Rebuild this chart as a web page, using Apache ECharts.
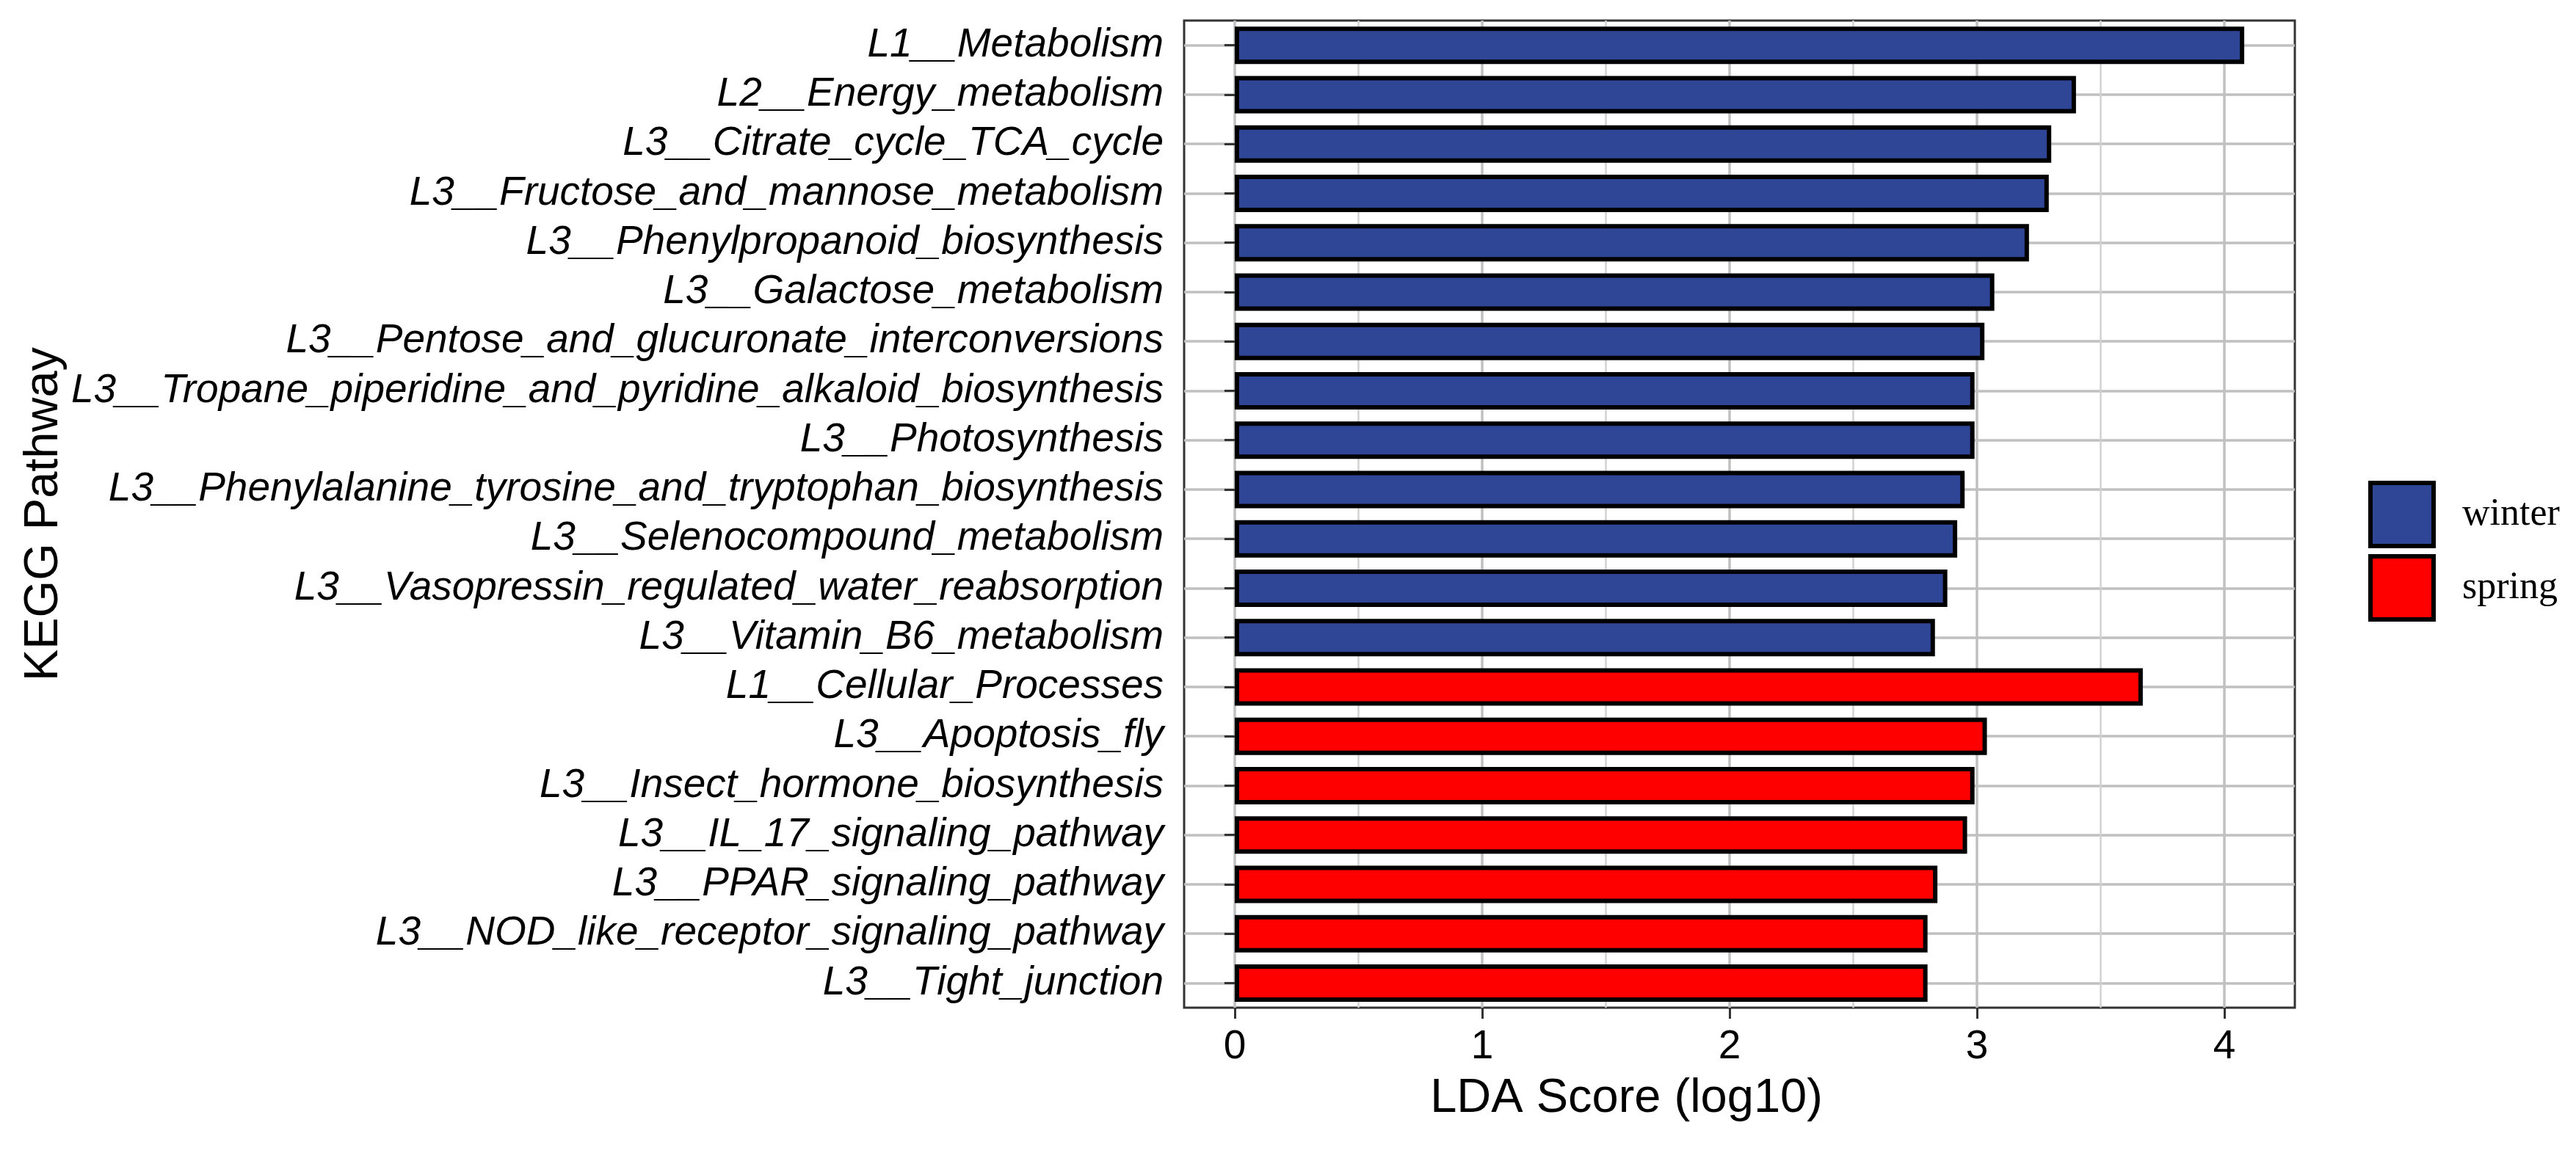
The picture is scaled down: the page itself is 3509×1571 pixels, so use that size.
<!DOCTYPE html>
<html>
<head>
<meta charset="utf-8">
<script src="https://cdn.jsdelivr.net/npm/echarts@6/dist/echarts.min.js"></script>
<style>
  html, body { margin: 0; padding: 0; background: #fff; }
  #main { width: 3509px; height: 1571px; }
</style>
</head>
<body>
<div id="main"></div>
<script>
// pathways top to bottom, winter ones first then spring ones
var winterPathways = ['L1__Metabolism', 'L2__Energy_metabolism', 'L3__Citrate_cycle_TCA_cycle',
  'L3__Fructose_and_mannose_metabolism', 'L3__Phenylpropanoid_biosynthesis', 'L3__Galactose_metabolism',
  'L3__Pentose_and_glucuronate_interconversions', 'L3__Tropane_piperidine_and_pyridine_alkaloid_biosynthesis',
  'L3__Photosynthesis', 'L3__Phenylalanine_tyrosine_and_tryptophan_biosynthesis',
  'L3__Selenocompound_metabolism', 'L3__Vasopressin_regulated_water_reabsorption', 'L3__Vitamin_B6_metabolism'];
var winterScores = [4.08, 3.40, 3.30, 3.29, 3.21, 3.07, 3.03, 2.99, 2.99, 2.95, 2.92, 2.88, 2.83];

var springPathways = ['L1__Cellular_Processes', 'L3__Apoptosis_fly', 'L3__Insect_hormone_biosynthesis',
  'L3__IL_17_signaling_pathway', 'L3__PPAR_signaling_pathway', 'L3__NOD_like_receptor_signaling_pathway',
  'L3__Tight_junction'];
var springScores = [3.67, 3.04, 2.99, 2.96, 2.84, 2.80, 2.80];

var xTicks = [0, 1, 2, 3, 4];
var xMinorTicks = [0.5, 1.5, 2.5, 3.5];

var categories = winterPathways.concat(springPathways);
var winterData = categories.map(function (c, i) { return i < winterScores.length ? winterScores[i] : '-'; });
var springData = categories.map(function (c, i) { return i >= winterScores.length ? springScores[i - winterScores.length] : '-'; });

var chart = echarts.init(document.getElementById('main'));
var option = {
  backgroundColor: '#fff',
  animation: false,
  grid: {
    left: 1613, right: 383, top: 28, bottom: 198,
    show: true, borderColor: '#333', borderWidth: 3, backgroundColor: '#fff'
  },
  legend: {
    orient: 'vertical',
    left: 3221, top: 650,
    itemWidth: 86, itemHeight: 86, itemGap: 8,
    icon: 'rect',
    itemStyle: { borderColor: '#000', borderWidth: 6 },
    textStyle: { fontFamily: 'Liberation Serif', fontSize: 52, color: '#000', padding: [0, 0, 0, 34] },
    data: ['winter', 'spring']
  },
  xAxis: {
    type: 'value',
    min: -0.2045, max: 4.2845,
    name: 'LDA Score (log10)',
    nameLocation: 'middle',
    nameGap: 92,
    nameTextStyle: { fontFamily: 'Liberation Sans', fontSize: 65, color: '#000', padding: [0, 308, 0, 0] },
    axisLine: { show: false },
    axisTick: { show: true, customValues: xTicks, length: 15, lineStyle: { color: '#333', width: 3 } },
    axisLabel: { customValues: xTicks, margin: 26, fontFamily: 'Liberation Sans', fontSize: 55, color: '#000' },
    splitLine: { show: true, customValues: xTicks, lineStyle: { color: '#c0c0c0', width: 3.5 } }
  },
  yAxis: {
    type: 'category',
    inverse: true,
    data: categories,
    name: 'KEGG Pathway',
    nameLocation: 'middle',
    nameGap: 1512,
    nameTextStyle: { fontFamily: 'Liberation Sans', fontSize: 65, color: '#000' },
    axisLine: { show: false },
    axisTick: { show: true, alignWithLabel: true, interval: 0, length: 14, lineStyle: { color: '#333', width: 3 } },
    axisLabel: { interval: 0, margin: 28, fontFamily: 'Liberation Sans', fontStyle: 'italic', fontSize: 55, color: '#000' },
    splitLine: { show: true, alignWithLabel: true, interval: 0, lineStyle: { color: '#c0c0c0', width: 3.5 } }
  },
  series: [
    {
      name: 'winter', type: 'bar', data: winterData,
      barWidth: 51, barGap: '-100%',
      itemStyle: { color: '#2F4595', borderColor: '#000', borderWidth: 6 },
      markLine: {
        silent: true, symbol: 'none', z: 1, label: { show: false },
        lineStyle: { color: '#d2d2d2', width: 2.5, type: 'solid' },
        data: xMinorTicks.map(function (v) { return { xAxis: v }; })
      }
    },
    {
      name: 'spring', type: 'bar', data: springData,
      barWidth: 51, barGap: '-100%',
      itemStyle: { color: '#FF0000', borderColor: '#000', borderWidth: 6 }
    }
  ]
};
chart.setOption(option);
</script>
</body>
</html>
